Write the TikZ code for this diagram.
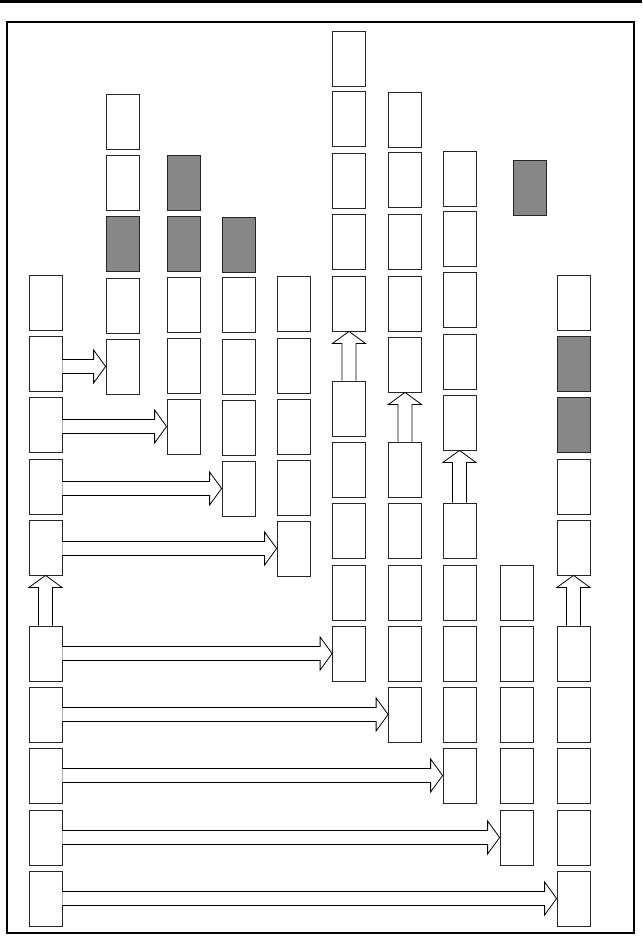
\documentclass[tikz,border=0pt]{standalone}
\usetikzlibrary{calc}
\definecolor{boxgray}{RGB}{135,135,135}
\tikzset{
  box/.style={draw=black!85, line width=0.8pt, minimum width=33pt, minimum height=55pt, inner sep=0pt, fill=white},
  gbox/.style={box, fill=boxgray},
  fatarr/.style={draw=black, line width=0.8pt, fill=white, line join=miter},
}
\newcommand\harrow[2]{%
  \draw[fatarr] ($(#1.east |- #2.west)+(0,7pt)$) -- ($(#2.west)+(-12pt,7pt)$) -- ($(#2.west)+(-12pt,16.5pt)$) -- (#2.west) -- ($(#2.west)+(-12pt,-16.5pt)$) -- ($(#2.west)+(-12pt,-7pt)$) -- ($(#1.east |- #2.west)+(0,-7pt)$);}
\newcommand\varrow[2]{%
  \draw[fatarr] ($(#2.south |- #1.north)+(-7pt,0)$) -- ($(#2.south)+(-7pt,-12pt)$) -- ($(#2.south)+(-16.5pt,-12pt)$) -- (#2.south) -- ($(#2.south)+(16.5pt,-12pt)$) -- ($(#2.south)+(7pt,-12pt)$) -- ($(#2.south |- #1.north)+(7pt,0)$);}
% box at column x-center #2, top y #3
\newcommand\bx[4][box]{\node[#1] (#2) at (#3,#4+27.5) {};}
\begin{document}
\begin{tikzpicture}[x=1pt,y=-1pt]
\useasboundingbox (0,0) rectangle (642,936);
\draw[line width=2.5pt] (0,1.5) -- (642,1.5);
\draw[line width=2pt] (7,22.5) rectangle (634,932.5);
% column A
\bx{A1}{45.5}{275}
\bx{A2}{45.5}{336}
\bx{A3}{45.5}{397}
\bx{A4}{45.5}{459}
\bx{A5}{45.5}{520}
\bx{A6}{45.5}{626}
\bx{A7}{45.5}{687}
\bx{A8}{45.5}{748}
\bx{A9}{45.5}{810}
\bx{A10}{45.5}{871}
% column B
\bx{B1}{122.5}{94}
\bx{B2}{122.5}{155}
\bx[gbox]{B3}{122.5}{216}
\bx{B4}{122.5}{278}
\bx{B5}{122.5}{339}
% column C
\bx[gbox]{C1}{183.5}{155}
\bx[gbox]{C2}{183.5}{216}
\bx{C3}{183.5}{277}
\bx{C4}{183.5}{338}
\bx{C5}{183.5}{399}
% column D
\bx[gbox]{D1}{238.5}{217}
\bx{D2}{238.5}{277}
\bx{D3}{238.5}{339}
\bx{D4}{238.5}{400}
\bx{D5}{238.5}{461}
% column E
\bx{E1}{293.5}{276}
\bx{E2}{293.5}{338}
\bx{E3}{293.5}{399}
\bx{E4}{293.5}{460}
\bx{E5}{293.5}{521}
% column F
\bx{F1}{349}{31}
\bx{F2}{349}{91}
\bx{F3}{349}{153}
\bx{F4}{349}{214}
\bx{F5}{349}{276}
\bx{F6}{349}{381}
\bx{F7}{349}{442}
\bx{F8}{349}{503}
\bx{F9}{349}{565}
\bx{F10}{349}{626}
% column G
\bx{G1}{405}{92}
\bx{G2}{405}{152}
\bx{G3}{405}{214}
\bx{G4}{405}{276}
\bx{G5}{405}{337}
\bx{G6}{405}{442}
\bx{G7}{405}{503}
\bx{G8}{405}{565}
\bx{G9}{405}{626}
\bx{G10}{405}{687}
% column H
\bx{H1}{459.5}{151}
\bx{H2}{459.5}{211}
\bx{H3}{459.5}{272}
\bx{H4}{459.5}{334}
\bx{H5}{459.5}{395}
\bx{H6}{459.5}{503}
\bx{H7}{459.5}{565}
\bx{H8}{459.5}{626}
\bx{H9}{459.5}{687}
\bx{H10}{459.5}{748}
% column I
\bx[gbox]{K1}{530}{160}
\bx{I1}{516.5}{565}
\bx{I2}{516.5}{626}
\bx{I3}{516.5}{687}
\bx{I4}{516.5}{748}
\bx{I5}{516.5}{810}
% column J
\bx{J1}{573.5}{275}
\bx[gbox]{J2}{573.5}{336}
\bx[gbox]{J3}{573.5}{397}
\bx{J4}{573.5}{459}
\bx{J5}{573.5}{520}
\bx{J6}{573.5}{626}
\bx{J7}{573.5}{687}
\bx{J8}{573.5}{748}
\bx{J9}{573.5}{810}
\bx{J10}{573.5}{871}
% horizontal arrows
\harrow{A2}{B5}
\harrow{A3}{C5}
\harrow{A4}{D5}
\harrow{A5}{E5}
\harrow{A6}{F10}
\harrow{A7}{G10}
\harrow{A8}{H10}
\harrow{A9}{I5}
\harrow{A10}{J10}
% vertical arrows
\varrow{A6}{A5}
\varrow{F6}{F5}
\varrow{G6}{G5}
\varrow{H6}{H5}
\varrow{J6}{J5}
\end{tikzpicture}
\end{document}
